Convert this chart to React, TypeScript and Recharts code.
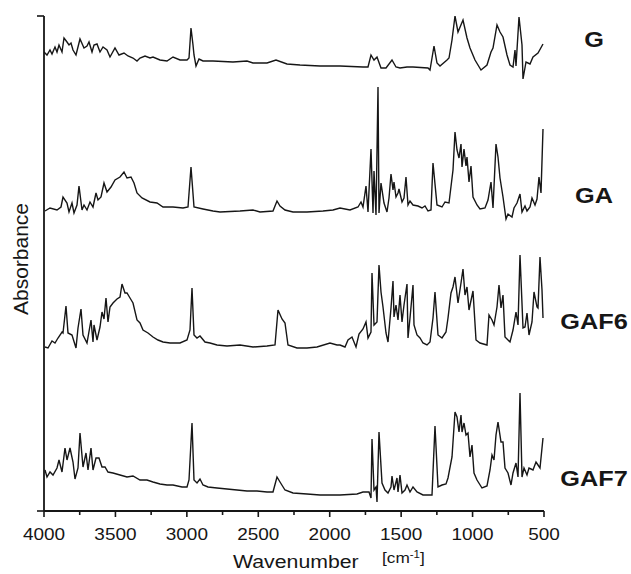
import React from 'react';
import { LineChart, Line, XAxis, YAxis, Customized } from 'recharts';

// Wavenumber axis (cm-1) tick values
const xTicks = [4000, 3750, 3500, 3250, 3000, 2750, 2500, 2250, 2000, 1750, 1500, 1250, 1000, 750, 500];
const yTicks = [0, 495];
const seriesNames = ['G', 'GA', 'GAF6', 'GAF7'];

// Stacked spectra: [wavenumber, absorbance (offset, arbitrary units)]
const specG: [number, number][] = [
  [4000, 459], [3979, 456], [3958, 461], [3944, 457], [3923, 464], [3909, 459], [3895, 466], [3874, 459],
  [3860, 473], [3839, 469], [3825, 466], [3811, 468], [3797, 461], [3776, 456], [3748, 472], [3720, 463],
  [3699, 465], [3685, 469], [3664, 459], [3650, 466], [3629, 467], [3608, 459], [3587, 464], [3559, 461],
  [3538, 454], [3503, 463], [3475, 456], [3440, 458], [3412, 455], [3377, 453], [3349, 450], [3328, 453],
  [3293, 455], [3258, 453], [3237, 454], [3188, 451], [3139, 450], [3097, 454], [3048, 451], [2999, 451],
  [2985, 453], [2971, 483], [2957, 466], [2950, 456], [2936, 445], [2915, 452], [2887, 450], [2817, 450],
  [2677, 449], [2579, 450], [2537, 448], [2439, 448], [2376, 451], [2299, 447], [2208, 446], [2068, 445],
  [1928, 445], [1767, 444], [1732, 444], [1711, 456], [1690, 451], [1669, 454], [1641, 443], [1606, 443],
  [1564, 451], [1536, 444], [1508, 443], [1459, 444], [1417, 444], [1312, 443], [1298, 441], [1270, 465],
  [1249, 448], [1228, 445], [1179, 451], [1165, 453], [1144, 471], [1123, 495], [1102, 479], [1067, 491],
  [1039, 473], [1018, 463], [983, 451], [941, 441], [899, 446], [871, 459], [857, 463], [829, 486],
  [808, 479], [787, 474], [759, 456], [738, 446], [717, 444], [703, 461], [696, 445], [675, 494],
  [654, 466], [647, 432], [626, 449], [598, 447], [577, 454], [542, 458], [507, 467],
];

const specGA: [number, number][] = [
  [3993, 300], [3958, 303], [3909, 301], [3881, 304], [3867, 314], [3839, 308], [3825, 299], [3804, 308],
  [3790, 298], [3769, 306], [3755, 325], [3734, 301], [3720, 306], [3699, 301], [3678, 309], [3657, 304],
  [3636, 318], [3622, 311], [3601, 314], [3580, 328], [3559, 319], [3531, 324], [3503, 331], [3468, 334],
  [3440, 339], [3419, 333], [3391, 334], [3370, 328], [3349, 318], [3314, 313], [3258, 309], [3209, 308],
  [3167, 304], [3097, 304], [3027, 303], [2992, 304], [2971, 344], [2950, 304], [2887, 302], [2817, 300],
  [2768, 299], [2628, 300], [2537, 301], [2488, 299], [2397, 300], [2369, 310], [2348, 305], [2313, 301],
  [2257, 299], [2159, 299], [2047, 300], [1977, 301], [1928, 303], [1858, 301], [1802, 304], [1781, 309],
  [1767, 304], [1746, 325], [1732, 299], [1711, 362], [1697, 298], [1690, 340], [1676, 296], [1662, 424],
  [1655, 298], [1641, 328], [1620, 308], [1599, 299], [1585, 313], [1571, 337], [1557, 321], [1550, 329],
  [1536, 314], [1522, 318], [1515, 322], [1494, 309], [1480, 313], [1466, 334], [1452, 306], [1438, 310],
  [1417, 306], [1382, 305], [1354, 303], [1333, 305], [1312, 300], [1291, 301], [1277, 348], [1249, 306],
  [1214, 304], [1193, 309], [1165, 308], [1137, 341], [1123, 379], [1109, 361], [1095, 353], [1081, 367],
  [1074, 344], [1060, 362], [1046, 345], [1039, 354], [1025, 329], [1011, 345], [997, 314], [969, 306],
  [948, 302], [913, 303], [892, 311], [871, 329], [857, 303], [836, 367], [822, 354], [808, 333],
  [787, 314], [766, 292], [752, 297], [724, 294], [710, 303], [689, 308], [668, 317], [654, 299],
  [633, 305], [619, 300], [598, 304], [584, 313], [563, 306], [549, 312], [535, 334], [521, 318], [507, 382],
];

const specGAF6: [number, number][] = [
  [3993, 164], [3972, 163], [3944, 170], [3923, 168], [3902, 173], [3874, 179], [3867, 178], [3846, 205],
  [3832, 178], [3804, 176], [3776, 163], [3762, 183], [3741, 202], [3727, 176], [3699, 168], [3671, 191],
  [3657, 169], [3650, 186], [3629, 171], [3608, 184], [3594, 199], [3580, 192], [3566, 213], [3552, 189],
  [3538, 204], [3517, 208], [3489, 212], [3468, 214], [3454, 227], [3433, 218], [3419, 218], [3398, 213],
  [3377, 208], [3349, 191], [3328, 188], [3307, 181], [3272, 178], [3237, 174], [3202, 171], [3167, 169],
  [3118, 168], [3048, 168], [2999, 171], [2978, 181], [2964, 223], [2950, 176], [2929, 173], [2908, 175],
  [2873, 169], [2838, 168], [2789, 166], [2719, 165], [2628, 166], [2537, 164], [2439, 165], [2383, 166],
  [2362, 201], [2334, 192], [2313, 188], [2292, 166], [2229, 163], [2159, 163], [2089, 164], [1998, 168],
  [1949, 166], [1928, 166], [1893, 164], [1872, 171], [1844, 174], [1816, 164], [1795, 177], [1767, 182],
  [1746, 189], [1732, 173], [1711, 179], [1704, 238], [1690, 186], [1669, 189], [1655, 246], [1641, 219],
  [1627, 204], [1606, 178], [1592, 169], [1571, 203], [1557, 230], [1550, 194], [1536, 206], [1522, 191],
  [1508, 216], [1494, 189], [1480, 206], [1459, 227], [1452, 173], [1438, 193], [1417, 226], [1410, 186],
  [1389, 176], [1368, 173], [1347, 168], [1319, 166], [1298, 169], [1277, 193], [1263, 219], [1242, 176],
  [1214, 173], [1186, 179], [1172, 193], [1151, 218], [1137, 224], [1123, 234], [1102, 208], [1081, 228],
  [1067, 242], [1053, 216], [1039, 224], [1025, 201], [997, 220], [976, 171], [948, 168], [899, 166],
  [885, 196], [864, 191], [850, 186], [829, 204], [815, 226], [801, 203], [787, 216], [773, 174],
  [752, 171], [738, 169], [717, 181], [696, 199], [682, 186], [668, 256], [647, 183], [633, 184],
  [619, 198], [605, 176], [584, 189], [570, 219], [549, 204], [542, 203], [528, 254], [514, 221], [507, 193],
];

const specGAF7: [number, number][] = [
  [3993, 41], [3979, 34], [3958, 39], [3937, 36], [3909, 43], [3895, 51], [3874, 39], [3853, 63],
  [3839, 51], [3818, 63], [3797, 49], [3783, 32], [3762, 43], [3748, 78], [3727, 44], [3706, 58],
  [3692, 41], [3671, 63], [3657, 41], [3636, 53], [3615, 53], [3594, 44], [3573, 44], [3552, 39],
  [3517, 38], [3468, 36], [3419, 34], [3377, 35], [3328, 31], [3279, 31], [3237, 29], [3188, 27],
  [3139, 26], [3097, 26], [3034, 24], [2999, 24], [2985, 31], [2964, 88], [2950, 31], [2929, 28],
  [2908, 32], [2887, 26], [2852, 24], [2789, 23], [2719, 22], [2649, 21], [2579, 20], [2509, 20],
  [2439, 19], [2397, 19], [2369, 34], [2348, 29], [2313, 21], [2257, 18], [2159, 17], [2068, 16],
  [1928, 16], [1809, 17], [1767, 19], [1725, 19], [1711, 13], [1704, 72], [1690, 21], [1676, 24],
  [1669, 9], [1655, 79], [1634, 28], [1613, 21], [1592, 18], [1571, 24], [1564, 35], [1550, 21],
  [1529, 33], [1522, 19], [1508, 36], [1494, 18], [1473, 21], [1459, 26], [1438, 19], [1417, 24],
  [1389, 19], [1347, 16], [1312, 16], [1284, 16], [1263, 85], [1242, 24], [1214, 26], [1186, 27],
  [1172, 33], [1144, 54], [1123, 99], [1109, 94], [1095, 79], [1081, 96], [1074, 79], [1060, 88],
  [1046, 76], [1032, 78], [1018, 54], [1004, 66], [990, 38], [969, 31], [934, 23], [899, 25],
  [878, 41], [864, 56], [850, 51], [836, 76], [822, 89], [801, 69], [787, 69], [773, 43],
  [752, 38], [731, 26], [717, 38], [696, 48], [682, 34], [668, 118], [654, 34], [640, 43],
  [619, 36], [605, 43], [577, 41], [556, 49], [542, 46], [528, 43], [507, 73],
];

const toRows = (pts: [number, number][]) => pts.map(([wn, v]) => ({ wn, v }));
const allSpectra = [specG, specGA, specGAF6, specGAF7];

const INK = '#161616';
const FONT = '"Liberation Sans", Arial, Helvetica, sans-serif';
const SX = 1.15; // horizontal glyph stretch seen in the figure

const XTick = (props: any) => {
  const { x, y, payload } = props;
  const major = payload.value % 500 === 0;
  return (
    <g>
      <line x1={x} x2={x} y1={y} y2={y + (major ? 6 : 4)} stroke={INK} strokeWidth={1.6} />
      {major && (
        <g transform={`translate(${x},${y + 29}) scale(${SX},1)`}>
          <text x={0} y={0} textAnchor="middle" fontFamily={FONT} fontSize={16.5} fill={INK}>
            {payload.value}
          </text>
        </g>
      )}
    </g>
  );
};

const NoTick = () => <g />;

const labelBaselines = [47, 203, 329, 486];

const Texts = () => (
  <g>
    {seriesNames.map((name, i) => (
      <g key={name} transform={`translate(594,${labelBaselines[i]}) scale(${SX},1)`}>
        <text x={0} y={0} textAnchor="middle" fontFamily={FONT} fontWeight="bold" fontSize={22} fill={INK}>
          {name}
        </text>
      </g>
    ))}
    <g transform="translate(28,259) rotate(-90)">
      <text x={0} y={0} textAnchor="middle" fontFamily={FONT} fontSize={21} fill={INK}>
        Absorbance
      </text>
    </g>
    <g transform={`translate(233,568) scale(${SX},1)`}>
      <text x={0} y={0} fontFamily={FONT} fontSize={18.5} fill={INK}>
        Wavenumber
      </text>
    </g>
    <g transform={`translate(382,563) scale(${SX},1)`}>
      <text x={0} y={0} fontFamily={FONT} fontSize={15} fill={INK}>
        [cm
        <tspan fontSize={10} dy={-5}>-1</tspan>
        <tspan dy={5}>]</tspan>
      </text>
    </g>
  </g>
);

export default function App() {
  return (
    <div style={{ position: 'absolute', left: 0, top: 0, width: 631, height: 574, background: '#fff' }}>
      <LineChart width={631} height={574} margin={{ top: 16, right: 87, bottom: 0, left: 0 }}>
        <XAxis
          type="number"
          dataKey="wn"
          domain={[500, 4000]}
          reversed
          allowDataOverflow
          ticks={xTicks}
          interval={0}
          height={63}
          tickSize={0}
          tickMargin={0}
          tickLine={false}
          tick={<XTick />}
          axisLine={{ stroke: INK, strokeWidth: 1.8 }}
        />
        <YAxis
          type="number"
          domain={[0, 495]}
          ticks={yTicks}
          width={44}
          tickSize={7}
          tick={<NoTick />}
          tickLine={{ stroke: INK, strokeWidth: 1.6 }}
          axisLine={{ stroke: INK, strokeWidth: 1.8 }}
          allowDataOverflow
        />
        {allSpectra.map((s, i) => (
          <Line
            key={seriesNames[i]}
            data={toRows(s)}
            dataKey="v"
            type="linear"
            stroke={INK}
            strokeWidth={1.4}
            dot={false}
            activeDot={false}
            isAnimationActive={false}
          />
        ))}
        <Customized component={Texts} />
      </LineChart>
    </div>
  );
}
